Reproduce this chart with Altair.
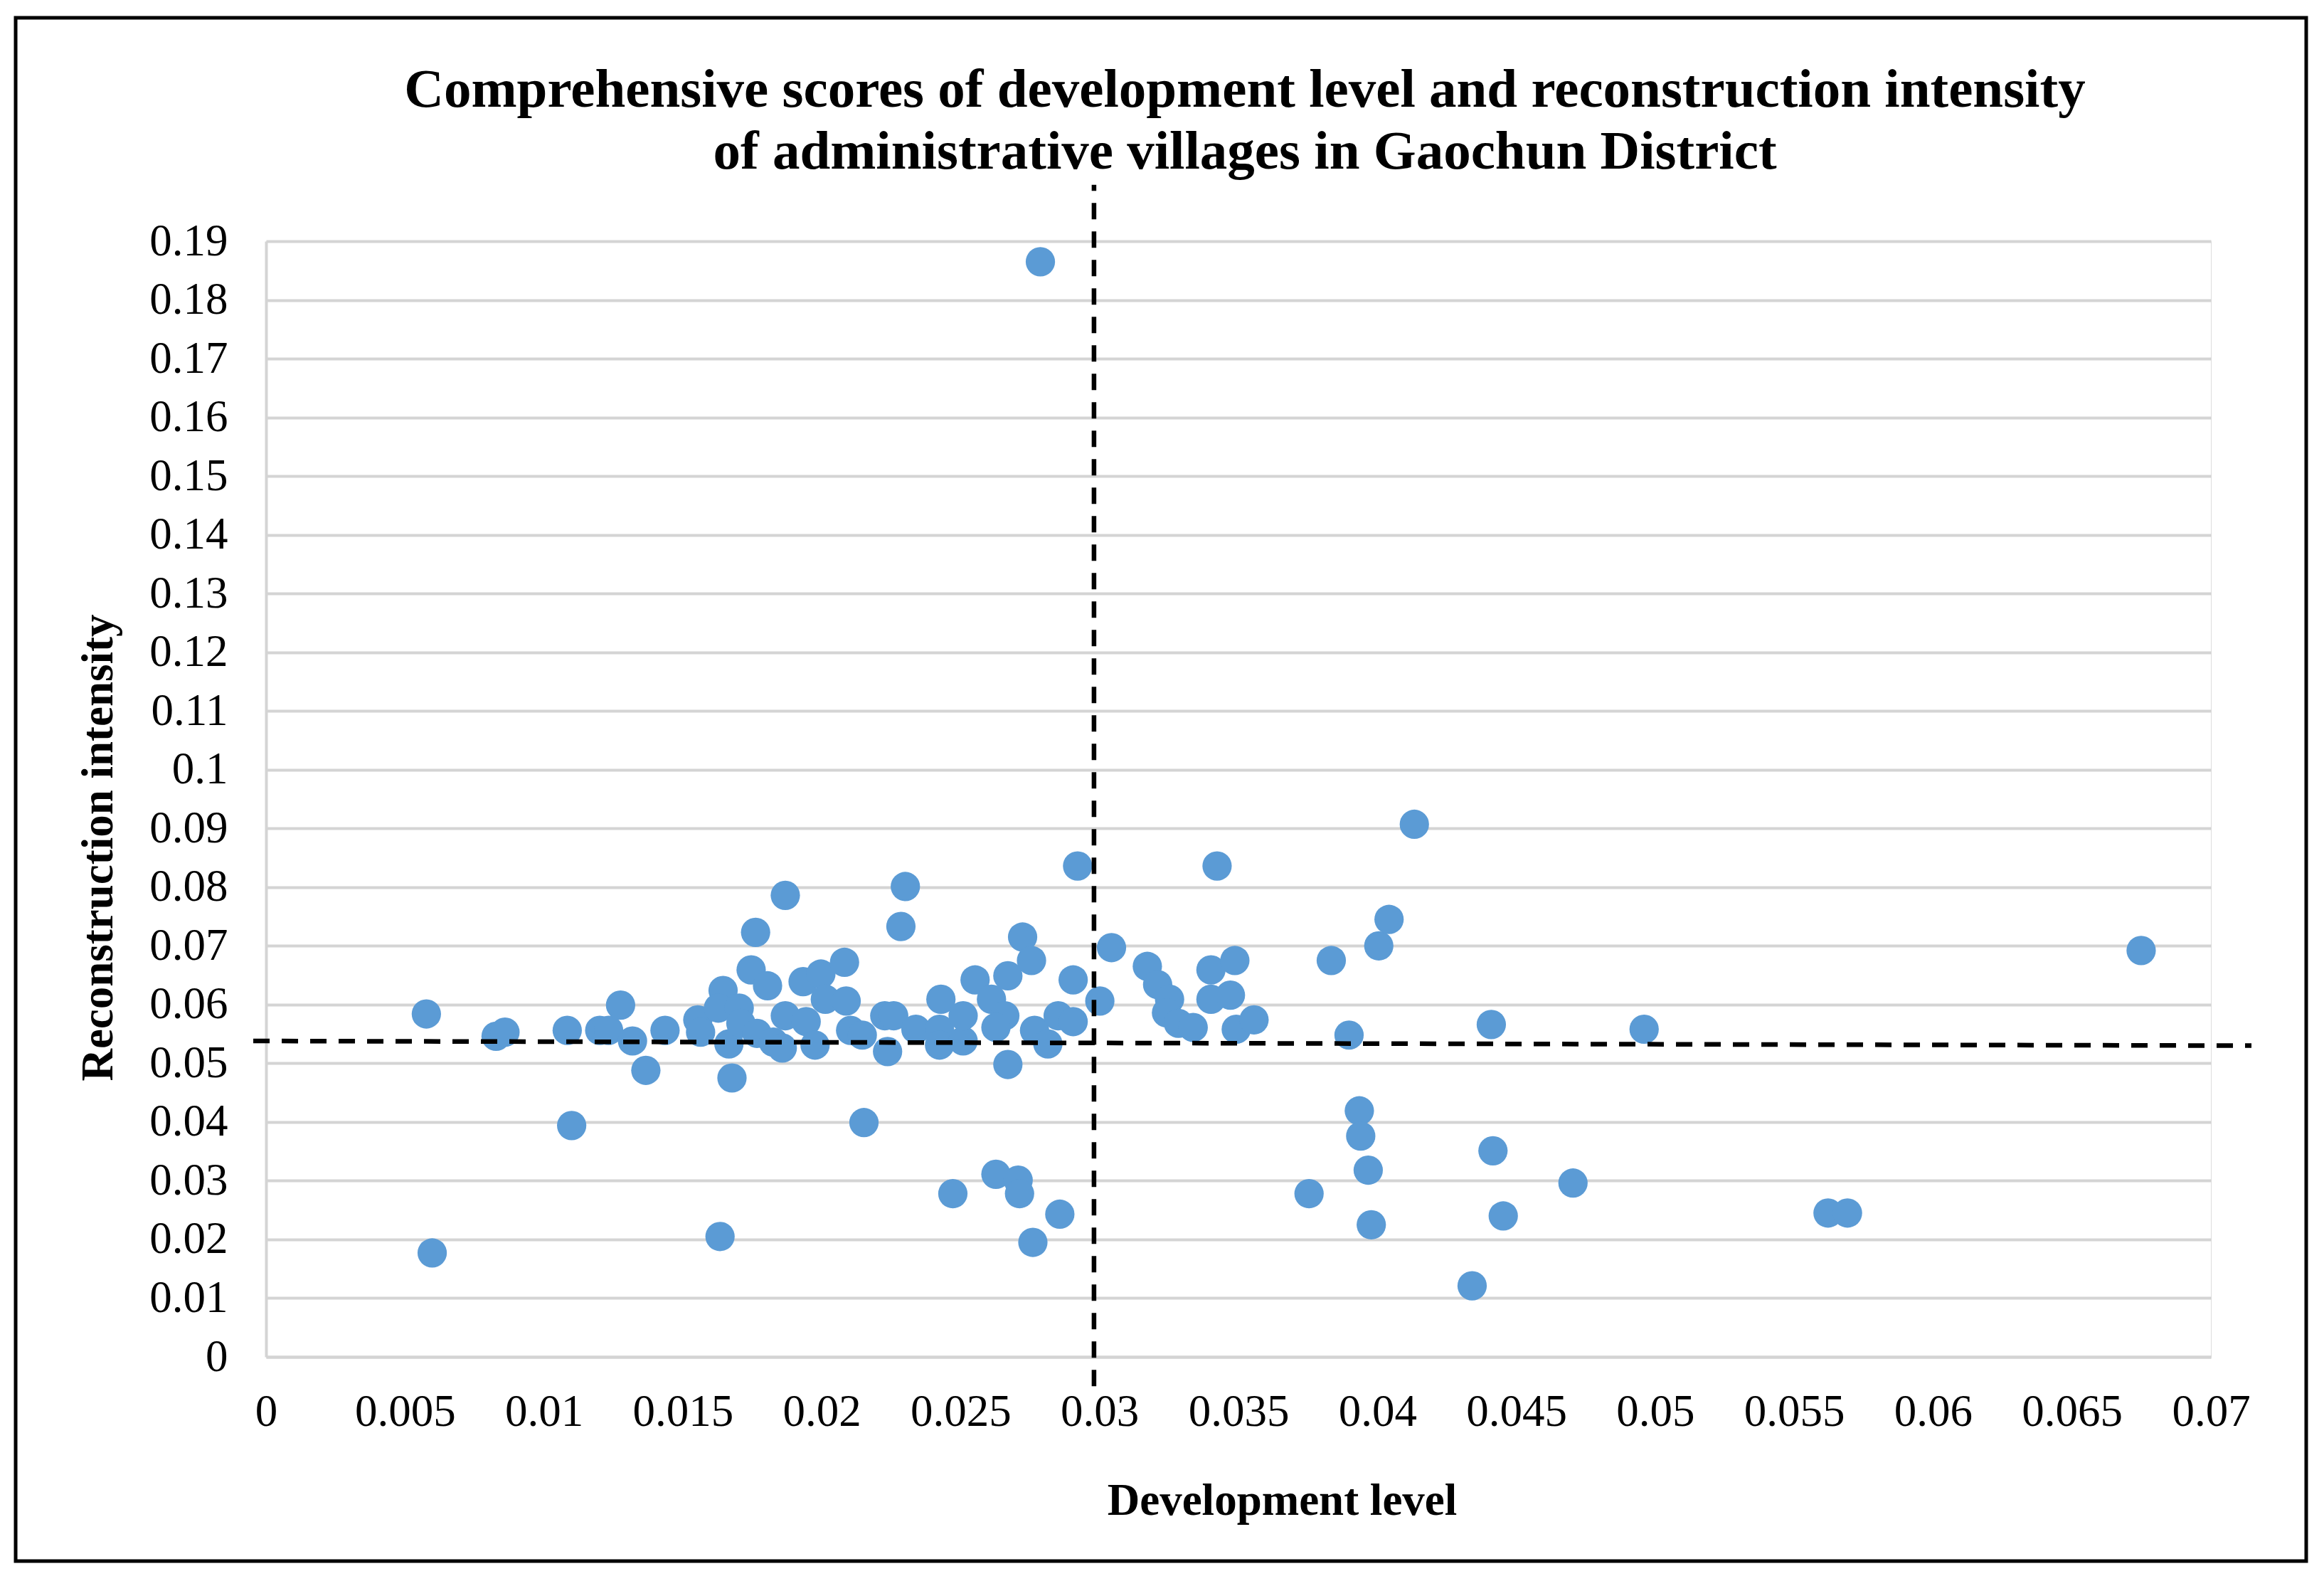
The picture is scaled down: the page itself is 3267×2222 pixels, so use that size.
import altair as alt
import pandas as pd

# ---- data ----
dev_level = [
    0.00577, 0.00598, 0.00828, 0.00860, 0.01084, 0.01100, 0.01201, 0.01233, 0.01276, 0.01319,
    0.01367, 0.01436, 0.01554, 0.01564, 0.01645, 0.01634, 0.01628, 0.01703, 0.01666, 0.01677,
    0.01709, 0.01746, 0.01762, 0.01767, 0.01805, 0.01826, 0.01869, 0.01869, 0.01858, 0.01933,
    0.01944, 0.01976, 0.01997, 0.02013, 0.02082, 0.02088, 0.02104, 0.02152, 0.02146, 0.02227,
    0.02259, 0.02237, 0.02301, 0.02285, 0.02339, 0.02424, 0.02429, 0.02424, 0.02472, 0.02509,
    0.02509, 0.02552, 0.02611, 0.02659, 0.02627, 0.02627, 0.02670, 0.02670, 0.02707, 0.02712,
    0.02723, 0.02755, 0.02766, 0.02760, 0.02787, 0.02814, 0.02851, 0.02857, 0.02905, 0.02905,
    0.02921, 0.03001, 0.03043, 0.03172, 0.03209, 0.03252, 0.03241, 0.03284, 0.03337, 0.03401,
    0.03401, 0.03423, 0.03471, 0.03487, 0.03492, 0.03556, 0.03754, 0.03834, 0.03898, 0.03935,
    0.03940, 0.03967, 0.03978, 0.04005, 0.04042, 0.04133, 0.04341, 0.04410, 0.04416, 0.04453,
    0.04704, 0.04960, 0.05622, 0.05692, 0.06749,
]
recon_intensity = [
    0.0584, 0.0177, 0.0546, 0.0553, 0.0556, 0.0394, 0.0556, 0.0556, 0.0599, 0.0538,
    0.0488, 0.0556, 0.0574, 0.0553, 0.0624, 0.0205, 0.0594, 0.0594, 0.0533, 0.0475,
    0.0568, 0.0659, 0.0723, 0.0551, 0.0632, 0.0536, 0.0786, 0.0581, 0.0526, 0.0639,
    0.0571, 0.0531, 0.0652, 0.0609, 0.0672, 0.0606, 0.0556, 0.0399, 0.0548, 0.0581,
    0.0581, 0.0520, 0.0801, 0.0733, 0.0558, 0.0558, 0.0609, 0.0531, 0.0278, 0.0538,
    0.0581, 0.0642, 0.0609, 0.0581, 0.0561, 0.0311, 0.0649, 0.0498, 0.0301, 0.0278,
    0.0715, 0.0675, 0.0556, 0.0195, 0.1865, 0.0533, 0.0581, 0.0243, 0.0571, 0.0642,
    0.0836, 0.0606, 0.0697, 0.0665, 0.0634, 0.0609, 0.0586, 0.0568, 0.0561, 0.0659,
    0.0609, 0.0836, 0.0616, 0.0675, 0.0558, 0.0574, 0.0278, 0.0675, 0.0548, 0.0419,
    0.0376, 0.0318, 0.0225, 0.0700, 0.0745, 0.0907, 0.0121, 0.0566, 0.0351, 0.0240,
    0.0296, 0.0558, 0.0245, 0.0245, 0.0692,
]

x_ticks = [0, 0.005, 0.01, 0.015, 0.02, 0.025, 0.03, 0.035, 0.04, 0.045,
           0.05, 0.055, 0.06, 0.065, 0.07]
y_ticks = [0, 0.01, 0.02, 0.03, 0.04, 0.05, 0.06, 0.07, 0.08, 0.09, 0.1,
           0.11, 0.12, 0.13, 0.14, 0.15, 0.16, 0.17, 0.18, 0.19]

# dashed reference lines (as drawn in the reference)
h_line_x = [-0.00046, 0.07146]
h_line_y = [0.0538, 0.0530]
v_line_x = [0.0298]
v_line_y = [-0.005]
v_line_y2 = [0.1996]

title_lines = [
    "Comprehensive scores of development level and reconstruction intensity",
    "of administrative villages in Gaochun District",
]
x_title = "Development level"
y_title = "Reconstruction intensity"

FONT = "Liberation Serif"
W, H = 2734, 1568
GRID = "#d4d4d4"

pts_df = pd.DataFrame({"x": dev_level, "y": recon_intensity})
h_df = pd.DataFrame({"x": h_line_x, "y": h_line_y})
v_df = pd.DataFrame({"x": v_line_x, "y": v_line_y, "y2": v_line_y2})
frame_df = pd.DataFrame({"k": [0]})

x_enc = alt.X(
    "x:Q",
    title=x_title,
    scale=alt.Scale(domain=[0, 0.07], nice=False, zero=False),
    axis=alt.Axis(
        values=x_ticks, format="~g", grid=False, ticks=False,
        labelFont=FONT, labelFontSize=63, labelColor="black", labelPadding=46,
        labelFlush=False, labelOverlap=False,
        domainColor=GRID, domainWidth=4,
        titleFont=FONT, titleFontSize=63, titleFontWeight="bold", titleColor="black",
        titleX=1428, titleY=221, titleAlign="center", titleBaseline="alphabetic",
    ),
)
y_enc = alt.Y(
    "y:Q",
    title=y_title,
    scale=alt.Scale(domain=[0, 0.19], nice=False, zero=False),
    axis=alt.Axis(
        values=y_ticks, format="~g", grid=True, gridColor=GRID, gridWidth=4,
        ticks=False,
        labelFont=FONT, labelFontSize=63, labelColor="black", labelPadding=54,
        labelFlush=False, labelOverlap=False,
        domainColor=GRID, domainWidth=4,
        titleFont=FONT, titleFontSize=63, titleFontWeight="bold", titleColor="black",
        titleX=-217, titleY=852, titleAlign="center", titleBaseline="alphabetic",
        titleAngle=270,
    ),
)

points = alt.Chart(pts_df).mark_circle(
    size=1700, color="#5b9bd5", opacity=1
).encode(x=x_enc, y=y_enc)

h_line = alt.Chart(h_df).mark_line(
    color="black", strokeWidth=6.5, strokeDash=[23, 17], clip=False
).encode(x=x_enc, y=y_enc)

v_line = alt.Chart(v_df).mark_rule(
    color="black", strokeWidth=6.5, strokeDash=[23, 17], clip=False
).encode(x=x_enc, y=y_enc, y2="y2:Q")

frame = alt.Chart(frame_df).mark_rect(
    fill="transparent", stroke="black", strokeWidth=5
).encode(
    x=alt.value(-352), x2=alt.value(2868), y=alt.value(-314), y2=alt.value(1855)
)

chart = alt.layer(frame, points, h_line, v_line).properties(
    width=W,
    height=H,
    title=alt.TitleParams(
        text=title_lines,
        font=FONT, fontSize=77, fontWeight="bold", color="black",
        anchor="middle", frame="group", dx=9,
        baseline="alphabetic", lineHeight=87, offset=-291.5,
    ),
    autosize=alt.AutoSizeParams(type="none"),
    padding={"left": 366, "top": 331, "right": 140, "bottom": 295},
).configure_view(strokeWidth=0).configure(background="white")

chart.save("out.html", embed_options={"renderer": "svg", "actions": False})
